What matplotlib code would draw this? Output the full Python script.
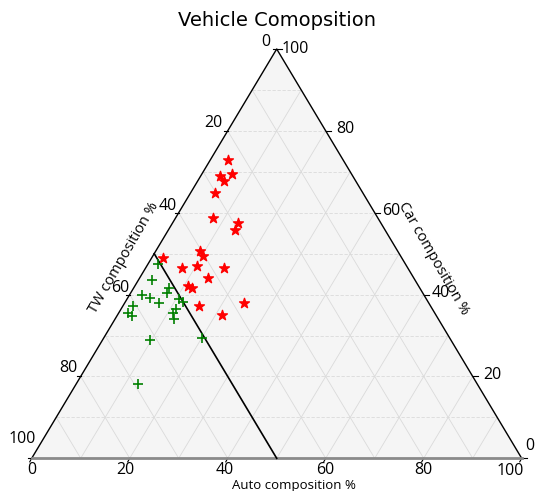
import numpy as np
import matplotlib.pyplot as plt

# vehicle shares (%) per sample: auto, car, two-wheeler
auto_hi = [3.7, 4.0, 6.2, 5.3, 5.0, 7.5, 13.3, 13.5, 8.9, 10.2,
           2.4, 7.4, 10.1, 15.9, 13.9, 10.8, 11.8, 24.4, 15.5, 21.2]
car_hi = [72.9, 69.0, 69.4, 67.7, 64.9, 58.8, 57.4, 55.9, 50.7, 49.4,
          48.9, 46.5, 47.1, 46.5, 44.1, 42.1, 41.7, 37.9, 37.2, 35.1]
tw_hi = [23.4, 27.0, 24.4, 27.0, 30.1, 33.7, 29.3, 30.6, 40.4, 40.4,
         48.7, 46.1, 42.8, 37.6, 42.0, 47.1, 46.5, 37.7, 47.3, 43.7]

auto_lo = [2.0, 2.8, 7.3, 7.4, 2.6, 4.6, 7.0, 2.1, 10.7,
           11.8, 1.8, 3.1, 11.3, 11.1, 12.1, 9.6, 20.1, 12.6]
car_lo = [47.5, 43.6, 41.5, 40.5, 39.9, 39.2, 38.0, 37.2, 38.8,
          38.1, 35.6, 34.8, 36.4, 35.6, 34.0, 29.0, 29.4, 18.2]
tw_lo = [50.5, 53.6, 51.2, 52.1, 57.5, 56.2, 55.0, 60.7, 50.5,
         50.1, 62.6, 62.1, 52.3, 53.3, 53.9, 61.4, 50.5, 69.2]

ticks = [0, 20, 40, 60, 80, 100]
tw_split = 50

H = np.sqrt(3) / 2


def proj(auto, car):
    auto = np.asarray(auto, dtype=float)
    car = np.asarray(car, dtype=float)
    return auto + car / 2, car * H


fig = plt.figure(figsize=(5.36, 4.91), dpi=100)
ax = fig.add_axes([31.7 / 536, (491 - 458.3) / 491, 490 / 536, 409.3 / 491])
ax.set_xlim(0, 100)
ax.set_ylim(0, 100 * H)
ax.axis('off')

# triangle background
cx, cy = proj([0, 100, 0], [0, 0, 100])
ax.fill(cx, cy, color='#f5f5f5', zorder=0, clip_on=False)

# gridlines every 10
gkw = dict(color='#dadada', lw=0.6, zorder=1, clip_on=False)
for v in range(10, 100, 10):
    x, y = proj([0, 100 - v], [v, v])
    ax.plot(x, y, ls=(0, (4, 2)), **gkw)
    x, y = proj([v, v], [0, 100 - v])
    ax.plot(x, y, **gkw)
    x, y = proj([0, 100 - v], [100 - v, 0])
    ax.plot(x, y, **gkw)

# boundary
x, y = proj([100, 0, 0], [0, 100, 0])
ax.plot(x, y, color='black', lw=1.0, zorder=3, clip_on=False)
x, y = proj([0, 100], [0, 0])
ax.plot(x, y, color='#8a8a8a', lw=2.0, zorder=3, clip_on=False)

# TW = 50 % divider
x, y = proj([0, 100 - tw_split], [100 - tw_split, 0])
ax.plot(x, y, color='black', lw=1.2, zorder=3, clip_on=False)

# points
x, y = proj(auto_hi, car_hi)
ax.scatter(x, y, marker='*', s=55, color='red', zorder=4, clip_on=False)
x, y = proj(auto_lo, car_lo)
ax.scatter(x, y, marker='+', s=55, color='green', linewidths=1.2, zorder=4, clip_on=False)

# label offsets in points, one per tick
off_b = [(0, -8.5), (-3, -8.5), (-2, -8.5), (0, -8.5), (0, -8.5), (-8, -9.5)]
off_r = [(6, 9), (14, 1), (12, 1), (12, 1), (14, 1), (13, 0)]
off_l = [(-8, 5), (-10, 6), (-8, 5), (-7, 5), (-9, 6), (-7, 14)]

tkw = dict(fontsize=11.5, family='Open Sans', ha='center', va='center',
           textcoords='offset points', annotation_clip=False)
for i, t in enumerate(ticks):
    # bottom axis: auto
    x, y = proj(t, 0)
    ax.plot([x, x - 0.4], [y, y - 0.75], color='black', lw=0.8, clip_on=False)
    ax.annotate(str(t), (x, y), xytext=off_b[i], **tkw)
    # right axis: car
    x, y = proj(100 - t, t)
    ax.plot([x, x + 1.0], [y, y], color='black', lw=0.8, clip_on=False)
    ax.annotate(str(t), (x, y), xytext=off_r[i], **tkw)
    # left axis: two-wheeler
    x, y = proj(0, 100 - t)
    ax.plot([x, x - 0.8], [y, y], color='black', lw=0.8, clip_on=False)
    ax.annotate(str(t), (x, y), xytext=off_l[i], **tkw)

fig.text(294 / 536, 1 - 485 / 491, 'Auto composition %', fontsize=9.5,
         family='Open Sans', ha='center', va='center')
fig.text(124 / 536, 1 - 258 / 491, 'TW composition %', fontsize=10.5,
         family='Open Sans', ha='center', va='center', rotation=60)
fig.text(433 / 536, 1 - 259 / 491, 'Car composition %', fontsize=10.5,
         family='Open Sans', ha='center', va='center', rotation=-60)
fig.text(277 / 536, 1 - 20 / 491, 'Vehicle Comopsition', fontsize=14,
         ha='center', va='center')

fig.savefig('out.png', dpi=100)
